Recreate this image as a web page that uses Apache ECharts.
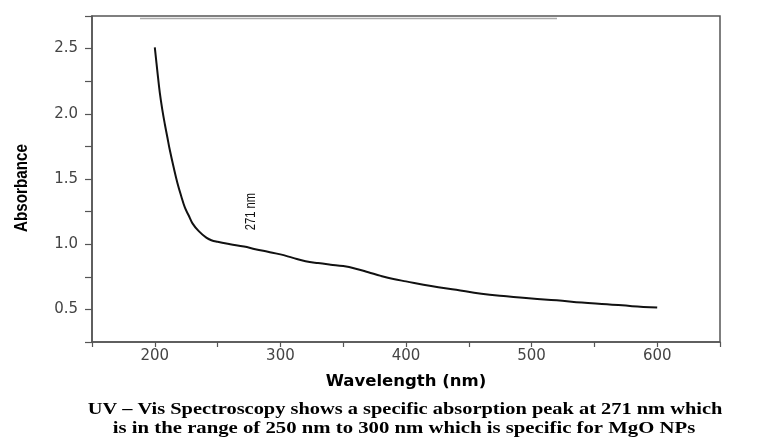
<!DOCTYPE html>
<html>
<head>
<meta charset="utf-8">
<script src="https://cdn.jsdelivr.net/npm/echarts@6/dist/echarts.min.js"></script>
<style>
html,body{margin:0;padding:0;background:#fff;}
#c{width:768px;height:439px;}
</style>
</head>
<body>
<div id="c"></div>
<script>
// Wavelength (nm)
const wavelength = [200,202,204,206,208,210,212,215,218,221,224,227,230,235,241,245,250,260,271,280,290,300,310,320,330,340,350,360,370,380,390,400,420,440,460,480,500,520,540,560,580,600];
// Absorbance
const absorbance = [2.51,2.33,2.16,2.03,1.92,1.82,1.72,1.59,1.47,1.37,1.28,1.22,1.16,1.10,1.05,1.03,1.018,1.0,0.982,0.962,0.942,0.922,0.895,0.87,0.855,0.843,0.832,0.812,0.785,0.757,0.733,0.715,0.68,0.65,0.62,0.60,0.583,0.57,0.553,0.54,0.525,0.514];
const xLabels = [200,300,400,500,600];
const yLabels = [0.5,1.0,1.5,2.0,2.5];
const peakLabel = '271 nm';
const peakPos = [277, 1.25];
const xTitle = 'Wavelength (nm)';
const yTitle = 'Absorbance';
const captionLines = [
  'UV \u2013 Vis Spectroscopy shows a specific absorption peak at 271 nm which',
  'is in the range of 250 nm to 300 nm which is specific for MgO NPs'
];

const data = wavelength.map((w,i)=>[w, absorbance[i]]);
const chart = echarts.init(document.getElementById('c'));
const axisCol = '#555';
chart.setOption({
  animation:false,
  backgroundColor:'#fff',
  grid:{left:92, right:48, top:16, bottom:97, show:true, borderColor:axisCol, borderWidth:1.5, backgroundColor:'transparent'},
  xAxis:{
    type:'value', min:150, max:650, interval:50,
    name:xTitle, nameLocation:'middle', nameGap:31,
    nameTextStyle:{fontFamily:'DejaVu Sans', fontWeight:'bold', fontSize:16.5, color:'#000'},
    axisLine:{show:true, lineStyle:{color:axisCol, width:1.5}},
    axisTick:{show:true, inside:false, length:5, lineStyle:{color:axisCol, width:1.2}},
    axisLabel:{margin:7, fontFamily:'DejaVu Sans', fontSize:15, color:'#444',
      formatter:v=> xLabels.includes(v) ? String(v) : ''},
    splitLine:{show:false}
  },
  yAxis:{
    type:'value', min:0.25, max:2.75, interval:0.25,
    axisLine:{show:true, lineStyle:{color:axisCol, width:1.5}},
    axisTick:{show:true, inside:false, length:7, lineStyle:{color:axisCol, width:1.2}},
    axisLabel:{margin:14, fontFamily:'DejaVu Sans', fontSize:15, color:'#444',
      formatter:v=>{ const r=Math.round(v*100)/100; return yLabels.some(l=>Math.abs(l-r)<1e-6) ? r.toFixed(1) : ''; }},
    splitLine:{show:false}
  },
  series:[{
    type:'line', data:data, showSymbol:false, smooth:0.4,
    lineStyle:{color:'#111', width:2}
  }]
});

const peakPx = chart.convertToPixel({gridIndex:0}, peakPos);
chart.setOption({
  graphic:[
    {type:'line', shape:{x1:140,y1:18.5,x2:557,y2:18.5}, style:{stroke:'#aaa', lineWidth:1.5}, silent:true},
    {type:'text', x:22, y:188, rotation:Math.PI/2, scaleX:0.8,
      style:{text:yTitle, fontFamily:'Liberation Sans', fontWeight:'bold', fontSize:19, fill:'#000', textAlign:'center', textVerticalAlign:'middle'}},
    {type:'text', x:peakPx[0], y:peakPx[1], rotation:Math.PI/2, scaleX:0.8,
      style:{text:peakLabel, fontFamily:'Liberation Sans', fontSize:14, fill:'#111', textAlign:'center', textVerticalAlign:'middle'}},
    {type:'text', x:405, y:418, scaleX:1.2,
      style:{text:captionLines[0], fontFamily:'Liberation Serif', fontWeight:'bold', fontSize:17, fill:'#000', textAlign:'center', textVerticalAlign:'bottom'}},
    {type:'text', x:404, y:437, scaleX:1.22,
      style:{text:captionLines[1], fontFamily:'Liberation Serif', fontWeight:'bold', fontSize:17, fill:'#000', textAlign:'center', textVerticalAlign:'bottom'}}
  ]
});
</script>
</body>
</html>
